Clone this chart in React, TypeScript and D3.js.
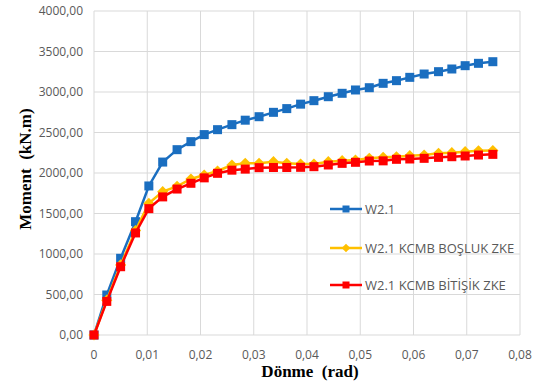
import React from "react";
import * as d3 from "d3";

const rotation = [
  0, 0.0024, 0.005, 0.0078, 0.0103, 0.0129, 0.0156, 0.0182, 0.0207, 0.0232,
  0.0259, 0.0284, 0.031, 0.0337, 0.0362, 0.0388, 0.0413, 0.044, 0.0466, 0.0491,
  0.0517, 0.0543, 0.0568, 0.0593, 0.062, 0.0647, 0.0672, 0.0697, 0.0722, 0.0749,
];
const w21 = [
  0, 494, 947, 1399, 1840, 2135, 2288, 2387, 2474, 2535,
  2597, 2652, 2695, 2749, 2795, 2850, 2893, 2942, 2984, 3025,
  3053, 3107, 3140, 3181, 3222, 3251, 3284, 3325, 3354, 3374,
];
const w21Bosluk = [
  0, 430, 865, 1290, 1625, 1770, 1835, 1926, 1975, 2025,
  2099, 2119, 2119, 2140, 2119, 2111, 2111, 2140, 2152, 2160,
  2181, 2193, 2201, 2214, 2222, 2243, 2251, 2263, 2275, 2278,
];
const w21Bitisik = [
  0, 415, 843, 1260, 1560, 1705, 1802, 1873, 1940, 1996,
  2035, 2048, 2066, 2068, 2068, 2070, 2078, 2099, 2119, 2132,
  2148, 2150, 2169, 2173, 2181, 2193, 2201, 2210, 2222, 2230,
];
const seriesNames = ["W2.1", "W2.1 KCMB BOŞLUK ZKE", "W2.1 KCMB BİTİŞİK ZKE"];
const seriesColors = ["#1a6ec0", "#ffc000", "#ff0000"];
const xTicks = [0, 0.01, 0.02, 0.03, 0.04, 0.05, 0.06, 0.07, 0.08];
const yTicks = [0, 500, 1000, 1500, 2000, 2500, 3000, 3500, 4000];
const xTitle = "Dönme  (rad)";
const yTitle = "Moment  (kN.m)";

const W = 545;
const H = 387;
const L = 94, R = 520, T = 11, B = 335;

const loc = d3.formatLocale({ decimal: ",", thousands: ".", grouping: [3], currency: ["", ""] });
const f2 = loc.format(".2f");
const xFmt = (v: number) => (v === 0 ? "0" : f2(v));

export default function App() {
  const x = d3.scaleLinear().domain([0, 0.08]).range([L, R]);
  const y = d3.scaleLinear().domain([0, 4000]).range([B, T]);
  const all = [w21, w21Bosluk, w21Bitisik];
  const line = d3.line<[number, number]>().x((d) => x(d[0])).y((d) => y(d[1]));
  const tickFont = "'Open Sans', sans-serif";

  const marker = (kind: number, cx: number, cy: number, color: string, s: number, key: any) => {
    if (kind === 1) {
      const r = s * 0.62;
      return (
        <path key={key} d={`M${cx},${cy - r}L${cx + r},${cy}L${cx},${cy + r}L${cx - r},${cy}Z`} fill={color} />
      );
    }
    return <rect key={key} x={cx - s / 2} y={cy - s / 2} width={s} height={s} fill={color} />;
  };

  const legendY = [209, 248, 285];

  return (
    <svg width={W} height={H} style={{ position: "absolute", left: 0, top: 0, background: "#fff" }}>
      <rect x={0} y={0} width={W} height={H} fill="#fff" />
      {yTicks.map((t) => (
        <line key={"gy" + t} x1={L} x2={R} y1={y(t)} y2={y(t)} stroke="#d9d9d9" strokeWidth={1} />
      ))}
      {xTicks.map((t) => (
        <line key={"gx" + t} x1={x(t)} x2={x(t)} y1={T} y2={B} stroke="#d9d9d9" strokeWidth={1} />
      ))}
      {yTicks.map((t) => (
        <text key={"ty" + t} x={L - 11} y={y(t)} dy="0.35em" textAnchor="end" fontFamily={tickFont} fontSize={12} fill="#595959">
          {f2(t)}
        </text>
      ))}
      {xTicks.map((t) => (
        <text key={"tx" + t} x={x(t)} y={B + 20} dy="0.35em" textAnchor="middle" fontFamily={tickFont} fontSize={12} fill="#595959">
          {xFmt(t)}
        </text>
      ))}
      <text x={310} y={377} textAnchor="middle" fontFamily="'Liberation Serif', 'Times New Roman', serif" fontWeight="bold" fontSize={17} fill="#000" style={{ whiteSpace: "pre" }}>
        {xTitle}
      </text>
      <text transform={`translate(31,169) rotate(-90)`} textAnchor="middle" fontFamily="'Liberation Serif', 'Times New Roman', serif" fontWeight="bold" fontSize={17} fill="#000" style={{ whiteSpace: "pre" }}>
        {yTitle}
      </text>
      {all.map((vals, si) => {
        const pts = rotation.map((r, i) => [r, vals[i]] as [number, number]);
        return (
          <g key={"s" + si}>
            <path d={line(pts) || ""} fill="none" stroke={seriesColors[si]} strokeWidth={2.5} />
            {pts.map((p, i) => marker(si, x(p[0]), y(p[1]), seriesColors[si], 9, i))}
          </g>
        );
      })}
      {seriesNames.map((n, i) => (
        <g key={"lg" + i}>
          <line x1={330} x2={362} y1={legendY[i]} y2={legendY[i]} stroke={seriesColors[i]} strokeWidth={2.5} />
          {marker(i, 346, legendY[i], seriesColors[i], 7, "m")}
          <text x={365} y={legendY[i]} dy="0.35em" fontFamily={tickFont} fontSize={13} fill="#595959">
            {n}
          </text>
        </g>
      ))}
    </svg>
  );
}
